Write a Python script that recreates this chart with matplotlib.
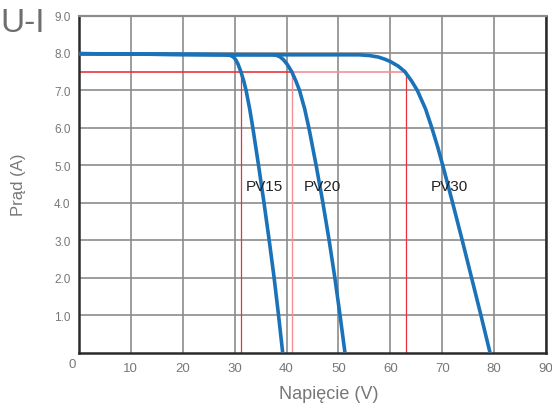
import matplotlib
matplotlib.use("Agg")
import matplotlib.pyplot as plt

plt.rcParams["font.family"] = ["Liberation Sans", "DejaVu Sans"]

# I-V curves (voltage V, current A)
pv15_v = [0, 10, 20, 28.0, 29.0, 29.7, 30.2, 30.65, 31.2, 31.75, 32.2, 32.9, 33.5,
          34.6, 35.65, 36.65, 37.6, 38.45, 39.25]
pv15_i = [7.98, 7.97, 7.96, 7.95, 7.94, 7.9, 7.82, 7.7, 7.5, 7.25, 7.0, 6.5, 6.0,
          5.0, 4.0, 3.0, 2.0, 1.0, 0.0]

pv20_v = [0, 20, 30, 37.0, 38.0, 38.7, 39.4, 40.1, 41.0, 41.8, 42.5, 43.5, 44.3,
          45.7, 47.0, 48.2, 49.3, 50.3, 51.25]
pv20_i = [7.98, 7.96, 7.95, 7.95, 7.94, 7.9, 7.82, 7.7, 7.5, 7.25, 7.0, 6.5, 6.0,
          5.0, 4.0, 3.0, 2.0, 1.0, 0.0]

pv30_v = [0, 20, 40, 54.0, 56.0, 57.7, 59.0, 60.0, 61.5, 62.8, 64.1, 65.2, 66.8,
          68.0, 69.1, 70.1, 72.0, 73.85, 75.65, 77.45, 79.2]
pv30_i = [7.98, 7.96, 7.95, 7.95, 7.93, 7.89, 7.83, 7.77, 7.65, 7.5, 7.25, 7.0, 6.5,
          6.0, 5.5, 5.0, 4.0, 3.0, 2.0, 1.0, 0.0]

# operating points (red guide lines)
i_op = 7.5
v_op = [31.3, 41.1, 63.1]
names = ["PV15", "PV20", "PV30"]
label_v = [32.1, 43.3, 67.8]
label_i = 4.45

xticks = [10, 20, 30, 40, 50, 60, 70, 80, 90]
yticks = [1.0, 2.0, 3.0, 4.0, 5.0, 6.0, 7.0, 8.0, 9.0]

blue = "#1a72b9"
red = "#e8333d"
pink = "#f29096"
grid_c = "#8c8c8c"
text_c = "#777777"

fig = plt.figure(figsize=(5.52, 4.06), dpi=100)
ax = fig.add_axes([79 / 552, 1 - 353.5 / 406, (546 - 79) / 552, (353.5 - 16.5) / 406])

ax.set_xlim(0, 90)
ax.set_ylim(0, 9)
ax.set_xticks(xticks)
ax.set_yticks(yticks)
ax.set_xticklabels([str(t) for t in xticks])
ax.set_yticklabels(["%.1f" % t for t in yticks])
ax.tick_params(axis="x", length=0, pad=7, labelsize=9.5, labelcolor=text_c)
ax.tick_params(axis="y", length=0, pad=6, labelsize=8.5, labelcolor=text_c)
ax.grid(True, color=grid_c, linewidth=1.2)
ax.set_axisbelow(True)

for side in ["left", "bottom", "right"]:
    ax.spines[side].set_color("#2a2a2a")
    ax.spines[side].set_linewidth(1.8)
ax.spines["top"].set_color(grid_c)
ax.spines["top"].set_linewidth(1.6)

# red guide lines
ax.plot([0, v_op[1]], [i_op, i_op], color=red, linewidth=1.2, zorder=2)
ax.plot([v_op[1], v_op[2]], [i_op, i_op], color=pink, linewidth=1.2, zorder=2)
ax.plot([v_op[0], v_op[0]], [0, i_op], color=red, linewidth=0.9, zorder=2)
ax.plot([v_op[1], v_op[1]], [0, i_op], color=pink, linewidth=1.0, zorder=2)
ax.plot([v_op[2], v_op[2]], [0, i_op], color=red, linewidth=0.9, zorder=2)

for v, i in [(pv15_v, pv15_i), (pv20_v, pv20_i), (pv30_v, pv30_i)]:
    ax.plot(v, i, color=blue, linewidth=2.6, solid_capstyle="butt",
            solid_joinstyle="round", zorder=3)

for name, lv in zip(names, label_v):
    ax.text(lv, label_i, name, fontsize=11, color="#222222", va="center", ha="left", zorder=4)

ax.annotate("0", xy=(0, 0), xytext=(-7, -12), textcoords="offset pixels",
            ha="center", va="center", fontsize=9.5, color=text_c, annotation_clip=False)

fig.text(0.5 / 552, 1 - 23 / 406, "U-I", fontsize=24, color="#6e6e6e", ha="left", va="center")
fig.text(18 / 552, 1 - 185 / 406, "Prąd (A)", fontsize=12, color=text_c, rotation=90,
         ha="center", va="center")
fig.text(329 / 552, 1 - 395 / 406, "Napięcie (V)", fontsize=13, color=text_c,
         ha="center", va="center")

fig.savefig("out.png", dpi=100)
